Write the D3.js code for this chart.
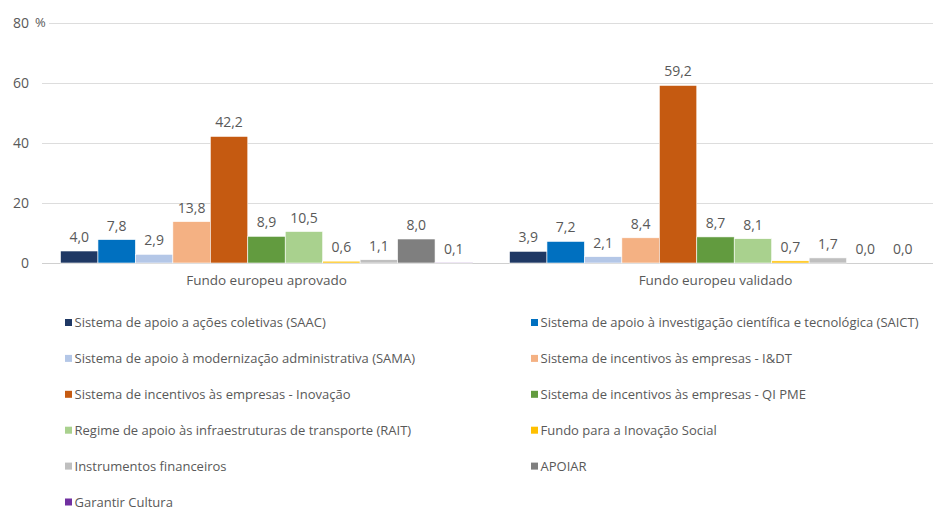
<!DOCTYPE html>
<html>
<head>
<meta charset="utf-8">
<script src="https://cdn.jsdelivr.net/npm/d3@7"></script>
<style>
  body { margin: 0; background: #fff; }
  svg { display: block; }
  text { font-family: "Open Sans", sans-serif; fill: #595959; }
</style>
</head>
<body>
<svg id="chart" width="933" height="511"></svg>
<script>
// chart data
const categories = ["Fundo europeu aprovado", "Fundo europeu validado"];
const seriesNames = [
  "Sistema de apoio a ações coletivas (SAAC)",
  "Sistema de apoio à investigação científica e tecnológica (SAICT)",
  "Sistema de apoio à modernização administrativa (SAMA)",
  "Sistema de incentivos às empresas - I&DT",
  "Sistema de incentivos às empresas - Inovação",
  "Sistema de incentivos às empresas - QI PME",
  "Regime de apoio às infraestruturas de transporte (RAIT)",
  "Fundo para a Inovação Social",
  "Instrumentos financeiros",
  "APOIAR",
  "Garantir Cultura"
];
const aprovado = [4.0, 7.8, 2.9, 13.8, 42.2, 8.9, 10.5, 0.6, 1.1, 8.0, 0.1];
const validado = [3.9, 7.2, 2.1, 8.4, 59.2, 8.7, 8.1, 0.7, 1.7, 0.0, 0.0];
const colors = ["#1F3864", "#0070C0", "#B4C7E7", "#F4B183", "#C55A11", "#629B3F",
                "#A9D18E", "#FFC000", "#BFBFBF", "#7F7F7F", "#7030A0"];
const yTicks = [0, 20, 40, 60, 80];

const values = [aprovado, validado];

const svg = d3.select("#chart");
const plotLeft = 42, plotRight = 940;
const y = d3.scaleLinear().domain([0, 80]).range([263, 23]);

const x0 = d3.scaleBand().domain(categories).range([plotLeft, plotRight]);
const x1 = d3.scaleBand().domain(d3.range(seriesNames.length))
  .range([18.5, x0.bandwidth() - 18.5]);

const fmt = v => d3.format(".1f")(v).replace(".", ",");

// gridlines
const grid = svg.append("g");
grid.selectAll("line").data(yTicks).enter().append("line")
  .attr("x1", plotLeft).attr("x2", 933)
  .attr("y1", d => Math.round(y(d)) + 0.5).attr("y2", d => Math.round(y(d)) + 0.5)
  .attr("stroke", d => d === 0 ? "#D0D0D0" : "#DDDDDD")
  .attr("stroke-width", 1);

// y axis labels
const yAxis = svg.append("g").attr("transform", "translate(29,0)")
  .call(d3.axisLeft(y).tickValues(yTicks).tickSize(0).tickPadding(0));
yAxis.select(".domain").remove();
yAxis.selectAll("text").attr("font-size", 14).attr("fill", "#595959")
  .attr("font-family", "Open Sans, sans-serif");

// "%" unit with white box covering the gridline
svg.append("rect").attr("x", 33).attr("y", 15).attr("width", 16).attr("height", 14).attr("fill", "#fff");
svg.append("text").attr("x", 35).attr("y", y(80)).attr("dy", "0.32em")
  .attr("font-size", 13).text("%");

// bars
const groups = svg.selectAll("g.cat").data(categories).enter().append("g")
  .attr("class", "cat")
  .attr("transform", d => "translate(" + x0(d) + ",0)");

groups.each(function(cat, ci) {
  const g = d3.select(this);
  const data = values[ci].map((v, i) => ({ v: v, i: i }));
  g.selectAll("rect").data(data).enter().append("rect")
    .attr("x", d => x1(d.i))
    .attr("width", x1.bandwidth())
    .attr("y", d => y(d.v))
    .attr("height", d => y(0) - y(d.v))
    .attr("fill", d => colors[d.i])
    .attr("stroke", "#fff").attr("stroke-width", 0.6);
  g.selectAll("text.lbl").data(data).enter().append("text")
    .attr("class", "lbl")
    .attr("x", d => x1(d.i) + x1.bandwidth() / 2)
    .attr("y", d => y(d.v) - 9)
    .attr("text-anchor", "middle")
    .attr("font-size", 14)
    .text(d => fmt(d.v));
  g.append("text")
    .attr("x", x0.bandwidth() / 2)
    .attr("y", 285)
    .attr("text-anchor", "middle")
    .attr("font-size", 13.5)
    .text(cat);
});

// legend, two columns
const legend = svg.append("g");
const items = legend.selectAll("g").data(seriesNames).enter().append("g")
  .attr("transform", (d, i) => "translate(" + (i % 2 === 0 ? 65 : 531) + "," + (322.5 + Math.floor(i / 2) * 35.9) + ")");
items.append("rect").attr("x", 0).attr("y", -3.5).attr("width", 7).attr("height", 7)
  .attr("fill", (d, i) => colors[i]);
items.append("text").attr("x", 9.5).attr("y", 0).attr("dy", "0.35em")
  .attr("font-size", 13)
  .text(d => d);
</script>
</body>
</html>
